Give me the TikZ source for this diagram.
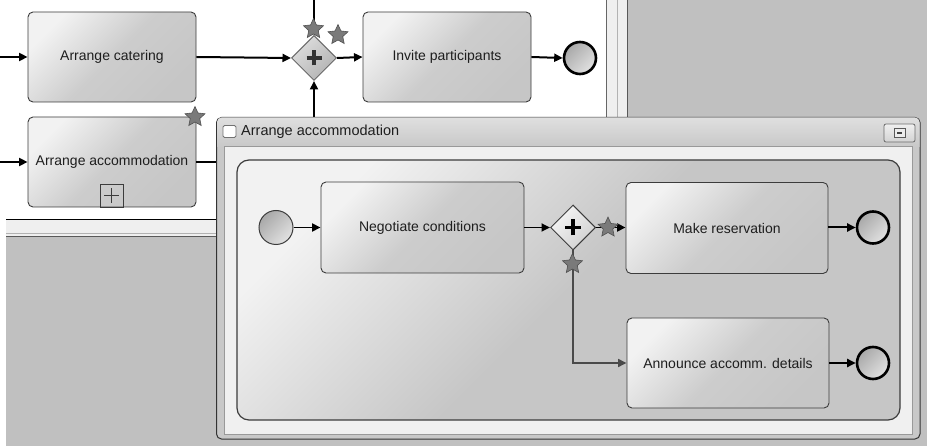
\documentclass[tikz,border=0pt]{standalone}
\usepackage{fontspec}
\setmainfont{Liberation Sans}
\usetikzlibrary{arrows.meta,shapes.geometric}
\definecolor{bgc}{HTML}{C0C0C0}
\definecolor{stripc}{HTML}{EFEFEF}
\definecolor{tasklight}{HTML}{F2F2F2}
\definecolor{taskdark}{HTML}{C6C6C6}
\definecolor{taskline}{HTML}{3C3C3C}
\definecolor{starfill}{HTML}{7A7A7A}
\definecolor{starline}{HTML}{505050}
\definecolor{txt}{HTML}{1E1E1E}
\definecolor{framec}{HTML}{C8C8C8}
\definecolor{clientc}{HTML}{F0F0F0}
\definecolor{greyflow}{HTML}{4A4A4A}
\definecolor{evdark}{HTML}{A8A8A8}
\definecolor{evlight}{HTML}{E2E2E2}
\definecolor{gwtopline}{HTML}{6A6A6A}
\definecolor{gwtoplight}{HTML}{DEDEDE}
\definecolor{gwtopdark}{HTML}{B2B2B2}
\definecolor{gwinlight}{HTML}{F6F6F6}
\definecolor{gwindark}{HTML}{CFCFCF}
\definecolor{plusc}{HTML}{333333}
\tikzset{
  lbl/.style={font=\fontsize{14}{16}\selectfont, text=txt},
  taskbox/.style={lbl, draw=taskline, line width=0.9pt, rounded corners=5pt,
     top color=tasklight, bottom color=taskdark, middle color=taskdark!85!tasklight,
     shading angle=45, inner sep=0pt, minimum width=#1, minimum height=90pt},
  taskbox/.default=168pt,
  endev/.style={circle, draw=black, line width=2.6pt, minimum size=32pt, inner sep=0pt,
     top color=evdark, bottom color=evlight, shading angle=45},
  startev/.style={circle, draw=taskline, line width=1pt, minimum size=34pt, inner sep=0pt,
     top color=evdark, bottom color=evlight, shading angle=45},
  gwtop/.style={diamond, draw=gwtopline, line width=1pt, minimum width=45pt, minimum height=45pt,
     inner sep=0pt, top color=gwtoplight, bottom color=gwtopdark, shading angle=45},
  gwin/.style={diamond, draw=taskline, line width=1pt, minimum width=45pt, minimum height=45pt,
     inner sep=0pt, top color=gwinlight, bottom color=gwindark, shading angle=45},
  starm/.style={star, star points=5, star point ratio=2.1, minimum size=21pt, inner sep=0pt,
     fill=starfill, draw=starline, line width=0.6pt},
  flow/.style={draw=black, line width=2pt, -{Triangle[length=8.5pt,width=8pt]}},
  iflow/.style={draw=black, line width=1.7pt, -{Triangle[length=8.5pt,width=8pt]}},
  greyfl/.style={draw=greyflow, line width=1.6pt, -{Triangle[length=8.5pt,width=8pt]}},
  subproc/.style={draw=taskline, line width=1.2pt, rounded corners=12pt,
     top color=tasklight, bottom color=taskdark, middle color=taskdark, shading angle=45,
     minimum width=663pt, minimum height=260pt, inner sep=0pt}
}
\begin{document}
\begin{tikzpicture}[x=1pt,y=-1pt]
\useasboundingbox (0,0) rectangle (927,446);
% backgrounds
\fill[bgc] (0,0) rectangle (927,446);
\fill[white] (0,0) rectangle (606,219);
\fill[white] (0,219) rectangle (6,446);
% vertical scroll strip
\fill[stripc] (606,0) rectangle (627,118);
\draw[gray!80!black, line width=0.8pt] (606.5,0) -- (606.5,118);
\draw[gray!60, line width=0.8pt] (617,0) -- (617,118);
\draw[gray!70!black, line width=0.8pt] (627,0) -- (627,118);
% horizontal scroll strip
\fill[stripc] (6,219) rectangle (217,236);
\draw[black, line width=0.8pt] (6,219.5) -- (217,219.5);
\draw[gray!60, line width=0.8pt] (6,233) -- (217,233);
\draw[gray!70!black, line width=0.8pt] (6,236.5) -- (217,236.5);

% top-level diagram
\node[taskbox] (ac) at (112,57) {Arrange catering};
\node[taskbox] (aa) at (112,162) {Arrange accommodation};
\node[draw=taskline, line width=0.8pt, minimum width=23pt, minimum height=23pt, inner sep=0pt] (aam) at (111.5,195.5) {};
\draw[taskline, line width=0.8pt] ([xshift=-7.5pt]aam.center) -- ([xshift=7.5pt]aam.center);
\draw[taskline, line width=0.8pt] ([yshift=-7.5pt]aam.center) -- ([yshift=7.5pt]aam.center);
\node[gwtop] (gw1) at (314,58) {};
\draw[plusc, line width=3.5pt] ([xshift=-7.5pt]gw1.center) -- ([xshift=7.5pt]gw1.center);
\draw[plusc, line width=3.5pt] ([yshift=-7.5pt]gw1.center) -- ([yshift=7.5pt]gw1.center);
\node[taskbox] (ip) at (447,57) {Invite participants};
\node[endev] (e1) at (580,58) {};
\coordinate (in1) at (0,57);
\coordinate (in2) at (0,162);
\coordinate (in3) at (314,0);
\draw[flow] (in1) -- (ac.west);
\draw[flow] (in2) -- (aa.west);
\draw[flow] (in3) -- (gw1.north);
\draw[flow] (ac.east) -- (gw1.west);
\draw[flow] (aa.east) -| (gw1.south);
\draw[flow] (gw1.east) -- (ip.west);
\draw[flow] (ip.east) -- (e1.west);
\node[starm] (s1) at (195,117) {};
\node[starm] (s2) at (313.5,29) {};
\node[starm] (s3) at (338,35) {};

% window
\draw[fill=framec, draw=black!80, line width=1pt, rounded corners=5pt] (216.5,117.5) rectangle (920,439);
\shade[top color=gray!25, bottom color=framec] (217,147) -- (217,122) arc[start angle=180, end angle=270, radius=4.5] -- (915,117.5) arc[start angle=270, end angle=360, radius=4.5] -- (919.5,147) -- cycle;
\draw[fill=clientc, draw=gray!80, line width=1pt] (224.5,147) rectangle (912,434.5);
\draw[fill=white, draw=gray!90!black, line width=0.8pt, rounded corners=1.5pt] (223,125.5) rectangle (236,137.5);
\node[lbl, anchor=west, inner sep=0pt, font=\fontsize{14.5}{16}\selectfont] (wt) at (241,131.5) {Arrange accommodation};
\shade[draw=gray!85!black, line width=0.8pt, rounded corners=2pt, top color=gray!12, bottom color=gray!35] (884,124) rectangle (915,142);
\draw[fill=gray!15, draw=black!65, line width=0.8pt] (894,128.5) rectangle (905,137.5);
\fill[black!75] (897,132.3) rectangle (902,134);

% sub-process
\node[subproc] (sp) at (568.5,290) {};
\node[startev] (st) at (276,227.5) {};
\node[taskbox=203pt, minimum height=91pt] (nc) at (422.5,227.5) {Negotiate conditions};
\node[gwin] (gw2) at (573,227.5) {};
\draw[black, line width=3.5pt] ([xshift=-8pt]gw2.center) -- ([xshift=8pt]gw2.center);
\draw[black, line width=3.5pt] ([yshift=-8pt]gw2.center) -- ([yshift=8pt]gw2.center);
\node[taskbox=202pt, minimum height=91pt] (mr) at (727,228) {Make reservation};
\node[taskbox=202pt] (ad) at (728,363) {Announce accomm. details};
\node[endev] (e2) at (873,227.5) {};
\node[endev] (e3) at (873,363) {};
\draw[iflow] (st.east) -- (nc.west);
\draw[iflow] (nc.east) -- (gw2.west);
\draw[iflow] (gw2.east) -- (gw2.east -| mr.west);
\draw[flow] (mr.east |- e2.west) -- (e2.west);
\draw[greyfl] (gw2.south) |- (ad.west);
\draw[flow] (ad.east) -- (e3.west);
\node[starm] (s4) at (608,227.5) {};
\node[starm] (s5) at (572.5,264) {};
\end{tikzpicture}
\end{document}
